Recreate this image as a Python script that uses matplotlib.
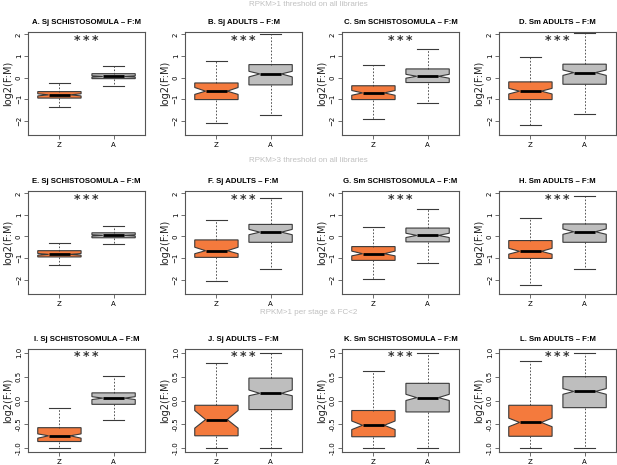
import matplotlib
matplotlib.use('Agg')
import matplotlib.pyplot as plt

# panel titles and row headers
titles = ['A. Sj SCHISTOSOMULA \u2013 F:M', 'B. Sj ADULTS \u2013 F:M',
          'C. Sm SCHISTOSOMULA \u2013 F:M', 'D. Sm ADULTS \u2013 F:M',
          'E. Sj SCHISTOSOMULA \u2013 F:M', 'F. Sj ADULTS \u2013 F:M',
          'G. Sm SCHISTOSOMULA \u2013 F:M', 'H. Sm ADULTS \u2013 F:M',
          'I. Sj SCHISTOSOMULA \u2013 F:M', 'J. Sj ADULTS \u2013 F:M',
          'K. Sm SCHISTOSOMULA \u2013 F:M', 'L. Sm ADULTS \u2013 F:M']
row_headers = ['RPKM>1 threshold on all libraries',
               'RPKM>3 threshold on all libraries',
               'RPKM>1 per stage & FC<2']
groups = ['Z', 'A']

# box stats per panel: (whislo, q1, med, q3, whishi, cilo, cihi) for Z then A
z_stats = [
    (-1.37, -0.95, -0.80, -0.65, -0.23, -0.85, -0.75),
    (-2.10, -1.02, -0.63, -0.25, 0.77, -0.78, -0.46),
    (-1.92, -1.02, -0.71, -0.38, 0.60, -0.82, -0.60),
    (-2.20, -1.02, -0.63, -0.20, 0.94, -0.76, -0.50),
    (-1.34, -0.95, -0.83, -0.66, -0.31, -0.87, -0.79),
    (-2.06, -0.97, -0.66, -0.16, 0.78, -0.80, -0.50),
    (-1.98, -1.11, -0.80, -0.47, 0.42, -0.90, -0.68),
    (-2.25, -1.02, -0.69, -0.19, 0.84, -0.82, -0.55),
    (-1.00, -0.86, -0.74, -0.57, -0.15, -0.79, -0.70),
    (-1.00, -0.74, -0.40, -0.10, 0.78, -0.58, -0.21),
    (-1.00, -0.76, -0.52, -0.21, 0.61, -0.61, -0.43),
    (-1.00, -0.75, -0.46, -0.10, 0.83, -0.55, -0.37),
]
a_stats = [
    (-0.40, -0.05, 0.05, 0.18, 0.52, 0.02, 0.08),
    (-1.74, -0.34, 0.17, 0.60, 2.03, 0.03, 0.29),
    (-1.20, -0.23, 0.06, 0.40, 1.34, -0.03, 0.15),
    (-1.71, -0.31, 0.23, 0.62, 2.05, 0.10, 0.35),
    (-0.34, -0.06, 0.05, 0.17, 0.47, 0.02, 0.08),
    (-1.50, -0.27, 0.20, 0.56, 1.80, 0.08, 0.33),
    (-1.23, -0.25, 0.05, 0.39, 1.28, -0.05, 0.15),
    (-1.52, -0.27, 0.22, 0.58, 1.90, 0.10, 0.35),
    (-0.41, -0.08, 0.05, 0.16, 0.51, 0.02, 0.08),
    (-1.00, -0.19, 0.15, 0.47, 1.00, 0.10, 0.22),
    (-1.00, -0.24, 0.06, 0.36, 1.00, 0.00, 0.13),
    (-1.00, -0.15, 0.19, 0.50, 1.00, 0.13, 0.25),
]
row_ylims = [(-2.66, 2.11), (-2.67, 2.11), (-1.08, 1.08)]
row_yticks = [[-2, -1, 0, 1, 2], [-2, -1, 0, 1, 2], [-1.0, -0.5, 0.0, 0.5, 1.0]]
star_y = [1.72, 1.72, 0.93]

orange = '#F47A3D'
grey = '#BEBEBE'
edge = '#3A3A3A'

W, H = 617, 465
fig = plt.figure(figsize=(W / 100, H / 100), dpi=100)

col_left = [28, 185, 342, 499]
row_top = [32, 191, 349]
ax_w, ax_h = 117, 103
header_y = [5, 160, 313]


def to_dict(s, label):
    keys = ['whislo', 'q1', 'med', 'q3', 'whishi', 'cilo', 'cihi']
    d = dict(zip(keys, s))
    d['label'] = label
    d['fliers'] = []
    return d


for r in range(3):
    fig.text(0.5, 1 - header_y[r] / H, row_headers[r], ha='center', va='center',
             fontsize=5.8, color='#C0C0C0', family='Liberation Sans')
    for c in range(4):
        i = r * 4 + c
        ax = fig.add_axes([col_left[c] / W, 1 - (row_top[r] + ax_h) / H, ax_w / W, ax_h / H])
        stats = [to_dict(z_stats[i], groups[0]), to_dict(a_stats[i], groups[1])]
        bp = ax.bxp(stats, positions=[1, 2], widths=0.8, shownotches=True,
                    showfliers=False, patch_artist=True,
                    boxprops=dict(edgecolor=edge, linewidth=0.8),
                    whiskerprops=dict(color=edge, linestyle=(0, (2, 2)), linewidth=0.6),
                    capprops=dict(color=edge, linewidth=0.8),
                    medianprops=dict(color='black', linewidth=2.0),
                    capwidths=0.4)
        bp['boxes'][0].set_facecolor(orange)
        bp['boxes'][1].set_facecolor(grey)
        ax.set_xlim(0.42, 2.58)
        ax.set_ylim(*row_ylims[r])
        ax.set_yticks(row_yticks[r])
        if r == 2:
            ax.set_yticklabels(['-1.0', '-0.5', '0.0', '0.5', '1.0'])
        ax.tick_params(axis='y', labelrotation=90, labelsize=5, length=3, width=0.6,
                       color='#555555', pad=1.5)
        ax.tick_params(axis='x', labelsize=5, length=3, width=0.6, color='#555555', pad=2)
        for lab in ax.get_yticklabels():
            lab.set_va('center')
        for sp in ax.spines.values():
            sp.set_color('#555555')
            sp.set_linewidth(0.8)
        ax.set_ylabel('log2(F:M)', fontsize=7, labelpad=2, color='#222222')
        ax.set_title(titles[i], fontsize=5.6, fontweight='bold', family='Liberation Sans',
                     pad=6)
        ax.text(1.5, star_y[r], '*\u2009*\u2009*', ha='center', va='center', fontsize=9,
                fontweight='bold', color='#333333')

fig.savefig('out.png', dpi=100)
